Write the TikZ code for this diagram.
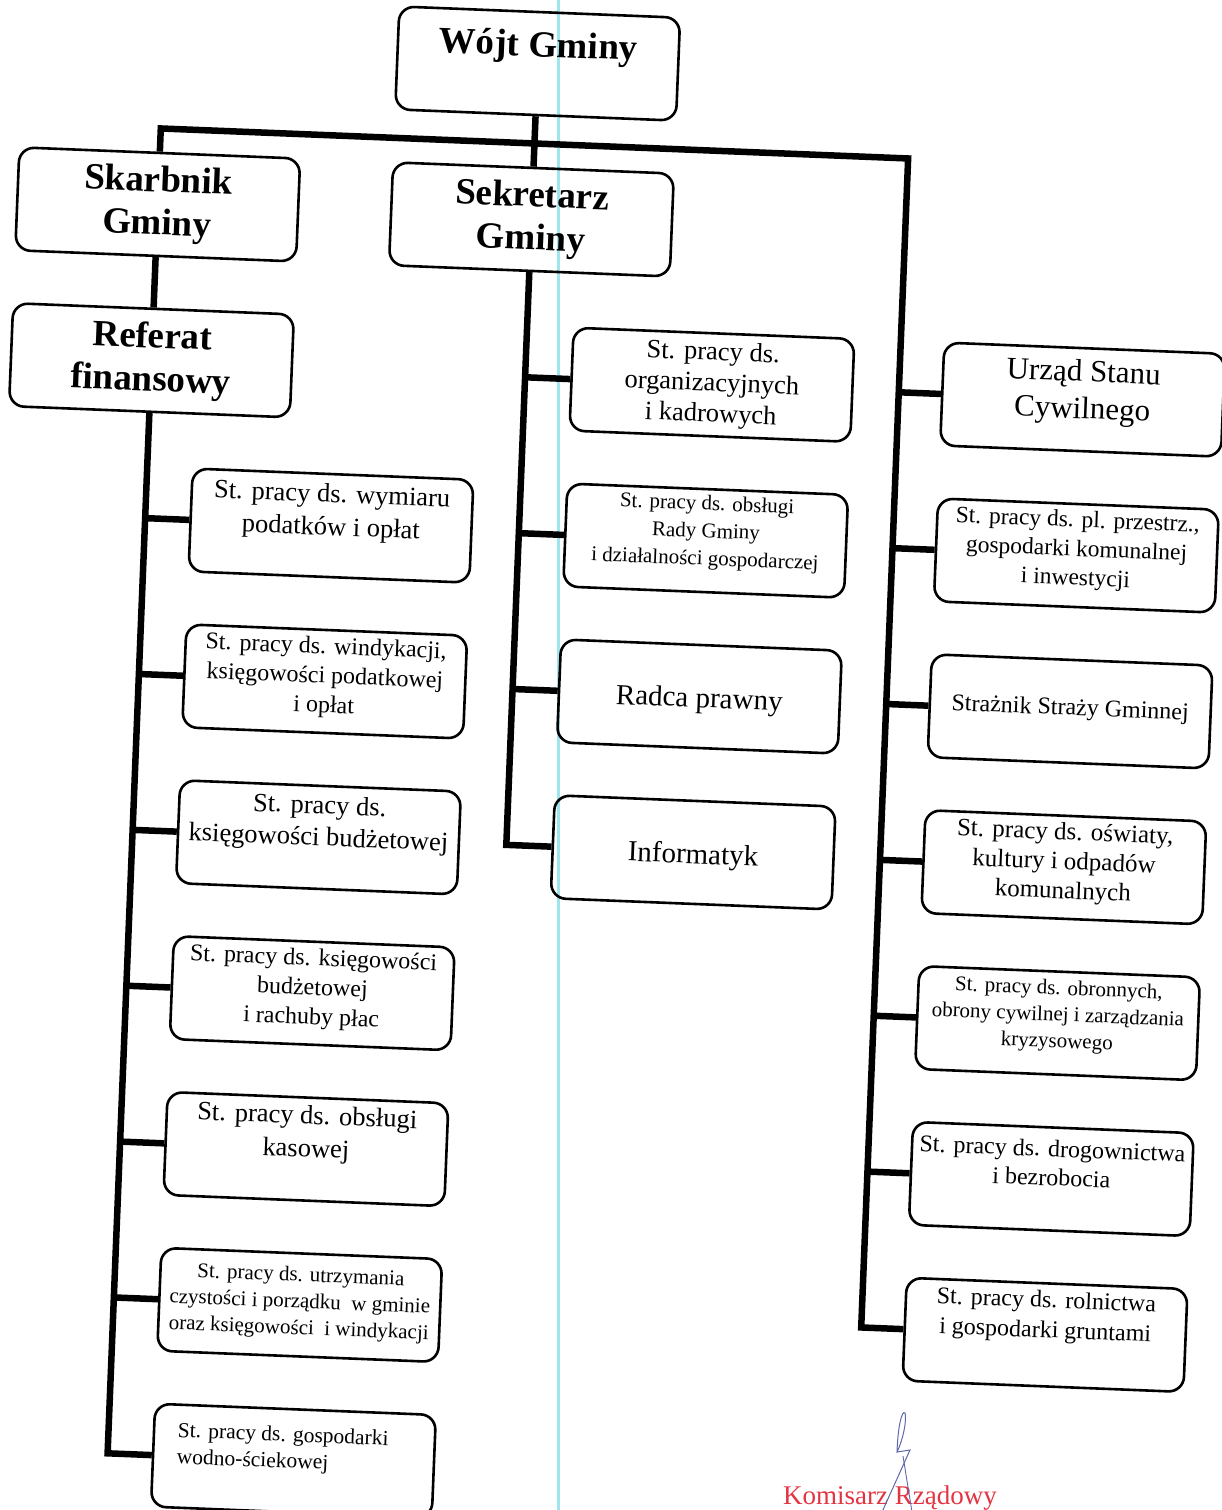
\documentclass[tikz,border=0pt]{standalone}
\usepackage{fontspec}
\setmainfont{Liberation Serif}
\usetikzlibrary{calc}
\definecolor{scan}{RGB}{160,228,236}
\definecolor{stampred}{RGB}{226,52,66}
\definecolor{ink}{RGB}{95,105,170}
\begin{document}
\begin{tikzpicture}[x=1pt,y=-1pt,
  box/.style={draw=black, line width=2.6pt, rounded corners=15pt, minimum width=281pt, minimum height=103pt, inner sep=0pt},
  lbl/.style={align=center, inner sep=0pt},
  fs/.style 2 args={font=\fontsize{#1}{#2}\selectfont},
  head/.style={font=\fontsize{37}{43}\selectfont\bfseries},
  conn/.style={line width=6.5pt, line join=miter},
]
\useasboundingbox (0,0) rectangle (1222,1510);
\draw[scan, line width=3pt] (558,-5) -- (558,1515);
\begin{scope}[rotate around={-2.3:(611,755)}, transform shape]
% boxes
\node[box] (wojt) at (510,67) {};
\node[box] (skarb) at (136,223) {};
\node[box] (sekr) at (510,223) {};
\node[box] (ref) at (136,379) {};
\node[box] (m1) at (697,381) {};
\node[box] (m2) at (697,537) {};
\node[box] (m3) at (697,693) {};
\node[box] (m4) at (697,849) {};
\node[box] (l1) at (322,537) {};
\node[box] (l2) at (322,693) {};
\node[box] (l3) at (322,849) {};
\node[box] (l4) at (322,1005) {};
\node[box] (l5) at (322,1161) {};
\node[box] (l6) at (322,1317) {};
\node[box] (l7) at (322,1473) {};
\node[box] (r1) at (1068,381) {};
\node[box] (r2) at (1068,537) {};
\node[box] (r3) at (1068,693) {};
\node[box] (r4) at (1068,849) {};
\node[box] (r5) at (1068,1005) {};
\node[box] (r6) at (1068,1161) {};
\node[box] (r7) at (1068,1317) {};
% connector bends
\coordinate (busL) at (136,147);
\coordinate (busR) at (884,147);
\coordinate (rEnd) at (884,1317);
\coordinate (lEnd) at (136,1473);
\coordinate (mEnd) at (510,849);
\draw[conn] (wojt.south) -- (sekr.north);
\draw[conn] (skarb.north) -- (busL) -- (busR) -- (rEnd) -- (r7.west);
\draw[conn] (skarb.south) -- (ref.north);
\draw[conn] (ref.south) -- (lEnd) -- (l7.west);
\draw[conn] (sekr.south) -- (mEnd) -- (m4.west);
\foreach \n in {l1,l2,l3,l4,l5,l6} \draw[conn] (\n.west) -- (\n.west -| lEnd);
\foreach \n in {m1,m2,m3} \draw[conn] (\n.west) -- (\n.west -| mEnd);
\foreach \n in {r1,r2,r3,r4,r5,r6} \draw[conn] (\n.west) -- (\n.west -| rEnd);
% texts
\node[lbl, head] (twojt) at ($(wojt)+(0,-16)$) {Wójt Gminy};
\node[lbl, head] (tskarb) at (skarb) {Skarbnik\\Gminy};
\node[lbl, head] (tsekr) at (sekr) {Sekretarz\\Gminy};
\node[lbl, head] (tref) at (ref) {Referat\\finansowy};
\node[lbl, fs={26.5}{31}] (tm1) at (m1) {St. pracy ds.\\organizacyjnych\\i kadrowych};
\node[lbl, fs={21}{27.5}] (tm2) at ($(m2)+(0,-8)$) {St. pracy ds. obsługi\\Rady Gminy\\i działalności gospodarczej};
\node[lbl, fs={29}{34}] (tm3) at ($(m3)+(0,4)$) {Radca prawny};
\node[lbl, fs={29}{34}] (tm4) at ($(m4)+(0,4)$) {Informatyk};
\node[lbl, fs={26.5}{33}] (tl1) at ($(l1)+(0,-13)$) {St. pracy ds. wymiaru\\podatków i opłat};
\node[lbl, fs={24}{29.5}] (tl2) at ($(l2)+(0,-4)$) {St. pracy ds. windykacji,\\księgowości podatkowej\\i opłat};
\node[lbl, fs={26.5}{32}] (tl3) at ($(l3)+(0,-14)$) {St. pracy ds.\\księgowości budżetowej};
\node[lbl, fs={24}{29.5}] (tl4) at ($(l4)+(0,-4)$) {St. pracy ds. księgowości\\budżetowej\\i rachuby płac};
\node[lbl, fs={26.5}{33}] (tl5) at ($(l5)+(0,-15)$) {St. pracy ds. obsługi\\kasowej};
\node[lbl, fs={21}{26.5}] (tl6) at ($(l6)+(0,-2)$) {St. pracy ds. utrzymania\\czystości i porządku\ \ w gminie\\oraz księgowości\ \ i windykacji};
\node[lbl, fs={21.5}{26.5}, align=left, anchor=west] (tl7) at ($(l7.west)+(25,-11)$) {St. pracy ds. gospodarki\\wodno-ściekowej};
\node[lbl, fs={31}{37}] (tr1) at ($(r1)+(0,-7)$) {Urząd Stanu\\Cywilnego};
\node[lbl, fs={23.5}{29}] (tr2) at ($(r2)+(0,-5)$) {St. pracy ds. pl. przestrz.,\\gospodarki komunalnej\\i inwestycji};
\node[lbl, fs={24}{29}] (tr3) at ($(r3)+(0,-2)$) {Strażnik Straży Gminnej};
\node[lbl, fs={25}{29.5}] (tr4) at ($(r4)+(0,-4)$) {St. pracy ds. oświaty,\\kultury i odpadów\\komunalnych};
\node[lbl, fs={21}{26.5}] (tr5) at ($(r5)+(0,-7)$) {St. pracy ds. obronnych,\\obrony cywilnej i zarządzania\\kryzysowego};
\node[lbl, fs={24}{29}] (tr6) at ($(r6)+(0,-16)$) {St. pracy ds. drogownictwa\\i bezrobocia};
\node[lbl, fs={24}{30}] (tr7) at ($(r7)+(0,-18)$) {St. pracy ds. rolnictwa\\i gospodarki gruntami};
\end{scope}
% stamp and signature
\node[font=\fontsize{27}{27}\selectfont, text=stampred, anchor=base west, inner sep=0pt] (stamp) at (783,1504) {Komisarz Rządowy};
\draw[ink, line width=1pt] (897,1452) .. controls (898,1425) and (902,1410) .. (905,1413) .. controls (907,1420) and (903,1440) .. (897,1452) -- (910,1450) -- (882,1512);
\draw[ink, line width=0.9pt] (903,1456) -- (912,1512);
\end{tikzpicture}
\end{document}
